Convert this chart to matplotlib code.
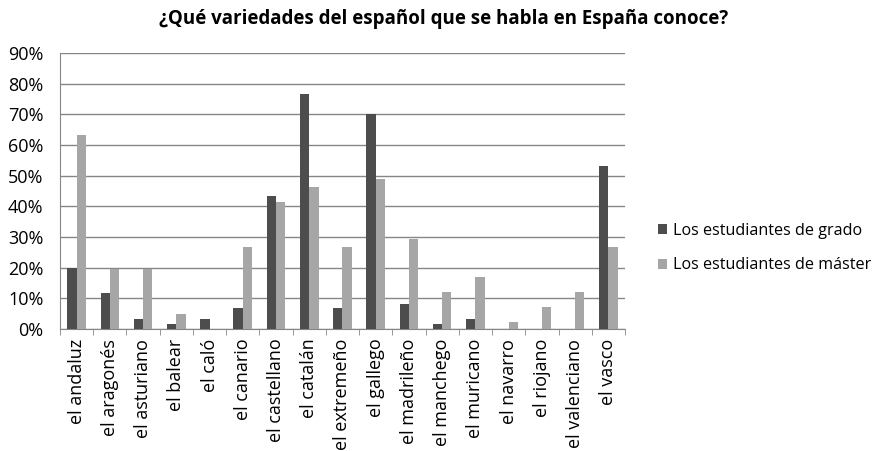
import matplotlib
matplotlib.use('Agg')
import matplotlib.pyplot as plt
import numpy as np
from matplotlib.ticker import FuncFormatter, FixedLocator

plt.rcParams['font.family'] = ['Open Sans', 'DejaVu Sans']

# data (percent)
variedades = ['el andaluz', 'el aragonés', 'el asturiano', 'el balear', 'el caló',
              'el canario', 'el castellano', 'el catalán', 'el extremeño', 'el gallego',
              'el madrileño', 'el manchego', 'el muricano', 'el navarro', 'el riojano',
              'el valenciano', 'el vasco']
grado = [20.0, 11.7, 3.3, 1.7, 3.3, 6.7, 43.3, 76.7, 6.7, 70.0,
         8.3, 1.7, 3.3, 0, 0, 0, 53.3]
master = [63.4, 19.5, 19.5, 4.9, 0, 26.8, 41.5, 46.3, 26.8, 48.8,
          29.3, 12.2, 17.1, 2.4, 7.3, 12.2, 26.8]
series_names = ['Los estudiantes de grado', 'Los estudiantes de máster']

fig = plt.figure(figsize=(8.87, 4.51), dpi=100)
ax = fig.add_axes([0.0676, 0.2705, 0.637, 0.612])

x = np.arange(len(variedades))
w = 0.28
ax.bar(x - w/2, grado, w, color='#4d4d4d', label=series_names[0], zorder=3)
ax.bar(x + w/2, master, w, color='#a6a6a6', label=series_names[1], zorder=3)

ax.set_xlim(-0.5, len(variedades) - 0.5)
ax.set_ylim(0, 90)
ax.set_yticks(np.arange(0, 91, 10))
ax.yaxis.set_major_formatter(FuncFormatter(lambda v, p: '%d%%' % v))
ax.yaxis.grid(True, color='#868686', linewidth=1)
ax.set_axisbelow(True)

ax.set_xticks(x)
ax.set_xticklabels(variedades, rotation=90, fontsize=13)
ax.tick_params(axis='x', length=0, pad=7)
ax.xaxis.set_minor_locator(FixedLocator(np.arange(-0.5, len(variedades), 1)))
ax.tick_params(axis='x', which='minor', length=4, color='#868686')
ax.tick_params(axis='y', length=0, labelsize=13, pad=12)

for s in ['top', 'right']:
    ax.spines[s].set_visible(False)
for s in ['left', 'bottom']:
    ax.spines[s].set_color('#868686')

fig.text(0.5, 0.957, '¿Qué variedades del español que se habla en España conoce?',
         ha='center', va='center', fontsize=13.5, fontweight='bold')

fig.legend(loc='center left', bbox_to_anchor=(0.725, 0.45), frameon=False,
           fontsize=11.6, handlelength=0.6, handleheight=0.6, handletextpad=0.35,
           labelspacing=1.15)

fig.savefig('out.png', dpi=100)
